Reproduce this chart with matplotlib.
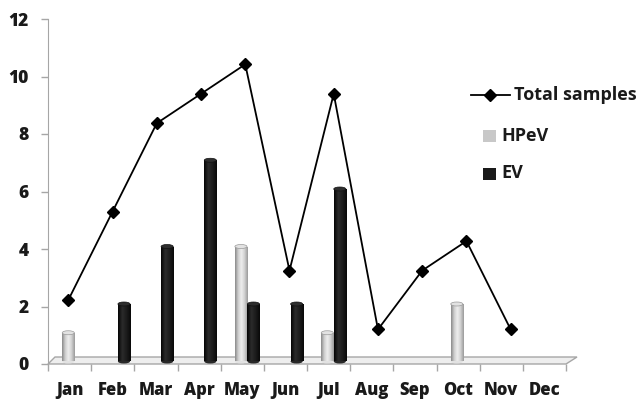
import numpy as np
import matplotlib
matplotlib.use('Agg')
import matplotlib.pyplot as plt
from matplotlib.transforms import ScaledTranslation, Affine2D
from matplotlib.lines import Line2D
from matplotlib.patches import Rectangle, Polygon, Ellipse
from matplotlib.colors import LinearSegmentedColormap

# ---- data ----
months = ['Jan', 'Feb', 'Mar', 'Apr', 'May', 'Jun', 'Jul', 'Aug', 'Sep', 'Oct', 'Nov', 'Dec']
total_samples = [2, 5, 8, 9, 10, 3, 9, 1, 3, 4, 1, np.nan]
hpev = [1, 0, 0, 0, 4, 0, 1, 0, 0, 2, 0, 0]
ev = [0, 2, 4, 7, 2, 2, 6, 0, 0, 0, 0, 0]
yticks = [0, 2, 4, 6, 8, 10, 12]

plt.rcParams['font.family'] = ['Open Sans', 'DejaVu Sans']
plt.rcParams['font.weight'] = 'bold'

W, H = 644, 400
fig = plt.figure(figsize=(W / 100, H / 100), dpi=100)
ax = fig.add_axes([48 / W, 36 / H, 518 / W, 345 / H])
ax.set_xlim(0, 12)
ax.set_ylim(0, 12)
x = np.arange(len(months)) + 0.5

pxx = 12 / 518  # data units per pixel (x)
pxy = 12 / 345  # data units per pixel (y)

# 3D floor
floor = Polygon([(0, 0), (12, 0), (12 + 11 * pxx, 7 * pxy), (7 * pxx, 7 * pxy)],
                closed=True, facecolor='#eeeeee', edgecolor='#a6a6a6', lw=1.0,
                clip_on=False, zorder=1)
ax.add_patch(floor)

bar_shift = ax.transData + ScaledTranslation(0, 0.025, fig.dpi_scale_trans)
# the line lies on the back plane of the 3D chart (slight perspective)
line_plane = Affine2D().scale(1.0248, 1.0246).translate(-0.042, 0.177) + ax.transData

cm_gray = LinearSegmentedColormap.from_list('g', ['#8a8a8a', '#cfcfcf', '#eeeeee', '#d0d0d0', '#9a9a9a'])
cm_black = LinearSegmentedColormap.from_list('b', ['#050505', '#2b2b2b', '#1c1c1c', '#080808'])
grad = np.linspace(0, 1, 64).reshape(1, -1)

bw = 0.28


def cyl_bars(xpos, vals, cmap, capcolor, edgecolor):
    bars = ax.bar(xpos, vals, width=bw, color='none', edgecolor='none', zorder=2)
    for b, v in zip(bars, vals):
        if v <= 0:
            b.set_visible(False)
            continue
        b.set_transform(bar_shift)
        x0 = b.get_x()
        im = ax.imshow(grad, cmap=cmap, aspect='auto', extent=(x0, x0 + bw, 0, v),
                       zorder=2, interpolation='bilinear')
        im.set_transform(bar_shift)
        im.set_clip_path(b)
        cap = Ellipse((x0 + bw / 2, v), bw, 4 * pxy, facecolor=capcolor,
                      edgecolor=edgecolor, lw=0.5, zorder=2.1, transform=bar_shift)
        ax.add_patch(cap)
        bot = Ellipse((x0 + bw / 2, 0), bw, 4 * pxy, facecolor=cmap(0.4),
                      edgecolor='none', zorder=1.9, transform=bar_shift)
        ax.add_patch(bot)


cyl_bars(x - 0.03, hpev, cm_gray, '#e2e2e2', '#9a9a9a')
cyl_bars(x + 0.26, ev, cm_black, '#2e2e2e', '#111111')

ax.set_xlim(0, 12)
ax.set_ylim(0, 12)

# line
ax.plot(x, total_samples, color='black', lw=1.3, marker='D', ms=6.5,
        transform=line_plane, zorder=3, clip_on=False)

# axes styling
for s in ['top', 'right', 'bottom']:
    ax.spines[s].set_visible(False)
ax.spines['left'].set_color('#a6a6a6')
ax.set_yticks(yticks)
ax.tick_params(axis='y', colors='#a6a6a6', length=5, width=1, pad=9,
               labelcolor='#1a1a1a', labelsize=12.5)
ax.set_xticks(x, months)
ax.set_xticks(np.arange(13), minor=True)
ax.tick_params(axis='x', which='major', length=0, pad=13, labelcolor='#1a1a1a',
               labelsize=12)
ax.tick_params(axis='x', which='minor', length=5, width=1, colors='#a6a6a6')

fig.canvas.draw()
for t in ax.get_yticklabels() + ax.get_xticklabels():
    t.set_fontweight('heavy')
    t.set_family(['Open Sans', 'DejaVu Sans'])


# legend (manual, figure pixel coordinates)
def P(px, py):
    return (px / W, 1 - py / H)


lx0, ly = P(471, 95)
lx1, _ = P(510, 95)
fig.add_artist(Line2D([lx0, lx1], [ly, ly], color='black', lw=1.3))
mx, _ = P(490, 95)
fig.add_artist(Line2D([mx], [ly], color='black', marker='D', ms=6.5))
fig.text(*P(514, 95), 'Total samples', fontsize=13, fontweight='bold',
         va='center', ha='left', color='#1a1a1a')

fig.add_artist(Rectangle(P(483, 142), 13 / W, 12 / H, facecolor='#c8c8c8',
                         edgecolor='none', transform=fig.transFigure))
fig.text(*P(501, 136), 'HPeV', fontsize=13, fontweight='bold', va='center',
         ha='left', color='#1a1a1a')
fig.add_artist(Rectangle(P(483, 180), 13 / W, 12 / H, facecolor='#1a1a1a',
                         edgecolor='none', transform=fig.transFigure))
fig.text(*P(501, 173), 'EV', fontsize=13, fontweight='bold', va='center',
         ha='left', color='#1a1a1a')

fig.savefig('out.png', dpi=100, facecolor='white')
